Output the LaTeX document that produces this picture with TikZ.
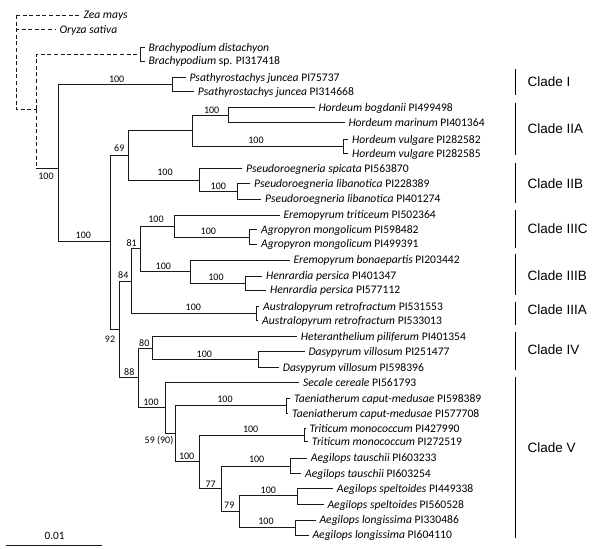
\documentclass[tikz,border=0pt]{standalone}
\usepackage{fontspec}
\setmainfont{Carlito}
\newfontfamily\cladefont{Liberation Sans}
\newcommand\mkleaf[6]{%
  \coordinate (#1) at (#4-4,#3);
  \node[taxon] (#1t) at (#4,#3+3.8) {#5};
  \draw[#6] (#2) |- (#1);}
\begin{document}
\begin{tikzpicture}[x=1pt,y=-1pt,
  branch/.style={line width=0.95pt, black!90, line cap=rect},
  outg/.style={line width=0.95pt, black!90, dash pattern=on 4pt off 2.6pt},
  taxon/.style={anchor=base west, inner sep=0pt, text=black, font=\fontsize{11.6}{13}\selectfont},
  bs/.style={inner sep=0pt, text=black, font=\fontsize{10}{11}\selectfont},
  clade/.style={anchor=west, inner sep=0pt, text=black, font=\cladefont\fontsize{13.5}{15}\selectfont},
  cbar/.style={line width=1pt, black}]
\useasboundingbox (0,0) rectangle (600,549);

% internal nodes
\coordinate (R0) at (16,15);
\coordinate (N1) at (36.7,109.3);
\coordinate (B) at (140,54);
\coordinate (I) at (58.3,168.3);
\coordinate (P) at (172.7,84.3);
\coordinate (A100) at (110.7,241.7);
\coordinate (N69) at (128.3,155.7);
\coordinate (H) at (192.7,130);
\coordinate (HBM) at (228.3,115);
\coordinate (HV) at (343.3,146.3);
\coordinate (PS) at (199.3,180);
\coordinate (PL) at (237.7,191);
\coordinate (N92) at (119,329.3);
\coordinate (N84) at (131.7,281.7);
\coordinate (N81) at (140,248.3);
\coordinate (EA) at (174,226);
\coordinate (AG) at (249.3,237);
\coordinate (EH) at (190,271.7);
\coordinate (HE) at (245,283);
\coordinate (AU) at (256,313.3);
\coordinate (N88) at (138.3,377.3);
\coordinate (N80) at (152.7,348.3);
\coordinate (DA) at (258.3,359.3);
\coordinate (CV) at (165,407.7);
\coordinate (N59) at (175,433.3);
\coordinate (TA) at (286,405.7);
\coordinate (NB) at (199.3,461.7);
\coordinate (TR) at (304,435);
\coordinate (N77) at (221.7,488.3);
\coordinate (TS) at (290,466);
\coordinate (N79) at (239.3,511.7);
\coordinate (SP) at (297.7,495.7);
\coordinate (LO) at (295,527.3);

% internal edges
\draw[outg] (R0) |- (N1);
\draw[outg] (N1) |- (B);
\draw[outg] (N1) -- (N1 |- I);
\draw[branch] (N1 |- I) -- (I);
\foreach \a/\b in {I/P, I/A100, A100/N69, A100/N92, N69/H, N69/PS, H/HBM, H/HV,
  PS/PL, N92/N84, N92/N88, N84/N81, N84/AU, N81/EA, N81/EH, EA/AG, EH/HE,
  N88/N80, N88/CV, N80/DA, CV/N59, N59/TA, N59/NB, NB/TR, NB/N77, N77/TS,
  N77/N79, N79/SP, N79/LO}
  \draw[branch] (\a) |- (\b);

% leaves
\mkleaf{lzea}{R0}{15}{83.3}{\textit{Zea mays}}{outg}
\mkleaf{lory}{R0}{29.3}{59.3}{\textit{Oryza sativa}}{outg}
\mkleaf{lbd}{B}{47.7}{148.3}{\textit{Brachypodium distachyon}}{branch}
\mkleaf{lbsp}{B}{61}{148.3}{\textit{Brachypodium} sp. PI317418}{branch}
\mkleaf{lps1}{P}{77.7}{189.3}{\textit{Psathyrostachys juncea} PI75737}{branch}
\mkleaf{lps2}{P}{91.7}{197.7}{\textit{Psathyrostachys juncea} PI314668}{branch}
\mkleaf{lhb}{HBM}{107.3}{318.3}{\textit{Hordeum bogdanii} PI499498}{branch}
\mkleaf{lhm}{HBM}{122.7}{348.3}{\textit{Hordeum marinum} PI401364}{branch}
\mkleaf{lhv1}{HV}{139.3}{352}{\textit{Hordeum vulgare} PI282582}{branch}
\mkleaf{lhv2}{HV}{153.3}{352}{\textit{Hordeum vulgare} PI282585}{branch}
\mkleaf{lpss}{PS}{168.3}{246}{\textit{Pseudoroegneria spicata} PI563870}{branch}
\mkleaf{lpl1}{PL}{183.3}{254}{\textit{Pseudoroegneria libanotica} PI228389}{branch}
\mkleaf{lpl2}{PL}{199}{265}{\textit{Pseudoroegneria libanotica} PI401274}{branch}
\mkleaf{let}{EA}{215}{283.3}{\textit{Eremopyrum triticeum} PI502364}{branch}
\mkleaf{lag1}{AG}{229.3}{261}{\textit{Agropyron mongolicum} PI598482}{branch}
\mkleaf{lag2}{AG}{244}{261}{\textit{Agropyron mongolicum} PI499391}{branch}
\mkleaf{leb}{EH}{260}{293.3}{\textit{Eremopyrum bonaepartis} PI203442}{branch}
\mkleaf{lhe1}{HE}{276}{266}{\textit{Henrardia persica} PI401347}{branch}
\mkleaf{lhe2}{HE}{290}{270}{\textit{Henrardia persica} PI577112}{branch}
\mkleaf{lau1}{AU}{306.3}{263}{\textit{Australopyrum retrofractum} PI531553}{branch}
\mkleaf{lau2}{AU}{320.3}{262}{\textit{Australopyrum retrofractum} PI533013}{branch}
\mkleaf{lhp}{N80}{336.7}{300.7}{\textit{Heteranthelium piliferum} PI401354}{branch}
\mkleaf{lda1}{DA}{351.7}{308.3}{\textit{Dasypyrum villosum} PI251477}{branch}
\mkleaf{lda2}{DA}{367.3}{282.7}{\textit{Dasypyrum villosum} PI598396}{branch}
\mkleaf{lsc}{CV}{382.7}{303}{\textit{Secale cereale} PI561793}{branch}
\mkleaf{lta1}{TA}{398.3}{294}{\textit{Taeniatherum caput-medusae} PI598389}{branch}
\mkleaf{lta2}{TA}{413.3}{292}{\textit{Taeniatherum caput-medusae} PI577708}{branch}
\mkleaf{ltr1}{TR}{428.3}{309.3}{\textit{Triticum monococcum} PI427990}{branch}
\mkleaf{ltr2}{TR}{441.7}{311.7}{\textit{Triticum monococcum} PI272519}{branch}
\mkleaf{lat1}{TS}{458}{310.7}{\textit{Aegilops tauschii} PI603233}{branch}
\mkleaf{lat2}{TS}{473.5}{305}{\textit{Aegilops tauschii} PI603254}{branch}
\mkleaf{las1}{SP}{488.3}{336.7}{\textit{Aegilops speltoides} PI449338}{branch}
\mkleaf{las2}{SP}{504.3}{327.3}{\textit{Aegilops speltoides} PI560528}{branch}
\mkleaf{lal1}{LO}{520}{319.3}{\textit{Aegilops longissima} PI330486}{branch}
\mkleaf{lal2}{LO}{535}{312.3}{\textit{Aegilops longissima} PI604110}{branch}

% bootstrap values
\node[bs] (s01) at (116.7,79) {100};
\node[bs] (s02) at (211.7,110) {100};
\node[bs] (s03) at (256,140.7) {100};
\node[bs] (s04) at (119.3,148.3) {69};
\node[bs] (s05) at (165,172.7) {100};
\node[bs] (s06) at (218.3,186) {100};
\node[bs] (s07) at (46,176.7) {100};
\node[bs] (s08) at (83.3,235) {100};
\node[bs] (s09) at (156,219.3) {100};
\node[bs] (s10) at (208.3,231) {100};
\node[bs] (s11) at (131.7,243.3) {81};
\node[bs] (s12) at (163.3,266) {100};
\node[bs] (s13) at (216,277.5) {100};
\node[bs] (s14) at (123.3,275) {84};
\node[bs] (s15) at (193.3,307.7) {100};
\node[bs] (s16) at (110,339) {92};
\node[bs] (s17) at (144.3,342.7) {80};
\node[bs] (s18) at (204.3,354.3) {100};
\node[bs] (s19) at (129.3,371.7) {88};
\node[bs] (s20) at (151,402.7) {100};
\node[bs] (s21) at (225,399) {100};
\node[bs] (s22) at (159,440.7) {59 (90)};
\node[bs] (s23) at (186.7,456.7) {100};
\node[bs] (s24) at (250.7,429) {100};
\node[bs] (s25) at (256.7,459.3) {100};
\node[bs] (s26) at (210.7,484) {77};
\node[bs] (s27) at (229.3,505.7) {79};
\node[bs] (s28) at (268.3,490) {100};
\node[bs] (s29) at (266,521) {100};

% clade bars and labels
\foreach \t/\b/\m/\lab in {69/95/81.7/I, 102.7/155/129/IIA, 163.3/203.3/183.3/IIB,
  210/248.3/228.3/IIIC, 254/295/275.7/IIIB, 301.7/325/310/IIIA,
  331.7/370/350/IV, 376.7/538.3/447.3/V}{
  \draw[cbar] (515.7,\t) -- (515.7,\b);
  \node[clade] (c\lab) at (527.5,\m) {Clade \lab};
}

% scale bar
\coordinate (sbl) at (6.7,545);
\coordinate (sbr) at (101.7,545);
\draw[branch] (sbl) -- (sbr);
\node[taxon, anchor=center, font=\fontsize{11.2}{13}\selectfont] (sbt) at (54.5,536) {0.01};
\end{tikzpicture}
\end{document}
